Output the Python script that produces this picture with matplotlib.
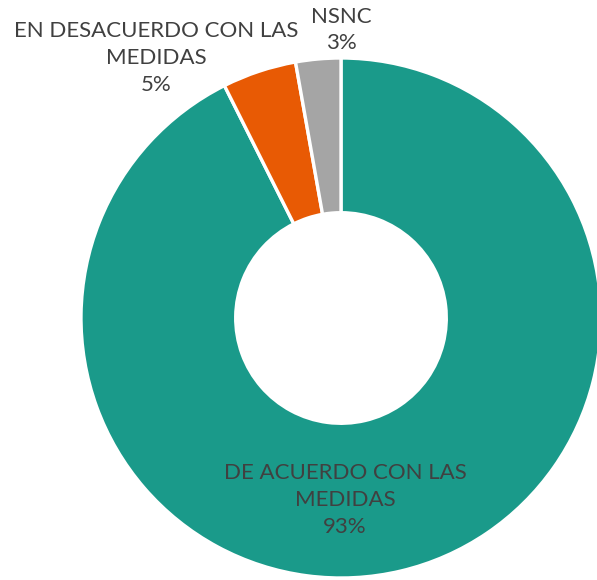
import matplotlib.pyplot as plt

# Porcentajes (sentido horario desde las 12)
categorias = ["DE ACUERDO CON LAS\nMEDIDAS", "EN DESACUERDO CON LAS\nMEDIDAS", "NSNC"]
valores = [92.6, 4.6, 2.8]
etiquetas_pct = ["93%", "5%", "3%"]
colores = ["#1a9a8a", "#e85a04", "#a5a5a5"]

plt.rcParams['font.family'] = ['Lato', 'DejaVu Sans']

fig = plt.figure(figsize=(5.97, 5.80), dpi=100)
ax = fig.add_axes([0, 0, 1, 1])

ax.pie(valores, colors=colores, startangle=90, counterclock=False,
       center=(341, 262), radius=260,
       wedgeprops=dict(width=260 * 0.595, edgecolor="white", linewidth=2.4))

ax.set_xlim(0, 597)
ax.set_ylim(0, 580)
ax.set_aspect('equal')
ax.axis('off')

txt = dict(ha='center', va='center', fontsize=16, color='#404040', linespacing=1.42)
ax.text(345, 80, categorias[0] + "\n" + etiquetas_pct[0], **txt)
ax.text(156, 522, categorias[1] + "\n" + etiquetas_pct[1], **txt)
ax.text(341, 550, categorias[2] + "\n" + etiquetas_pct[2], **txt)

plt.savefig("out.png", dpi=100)
